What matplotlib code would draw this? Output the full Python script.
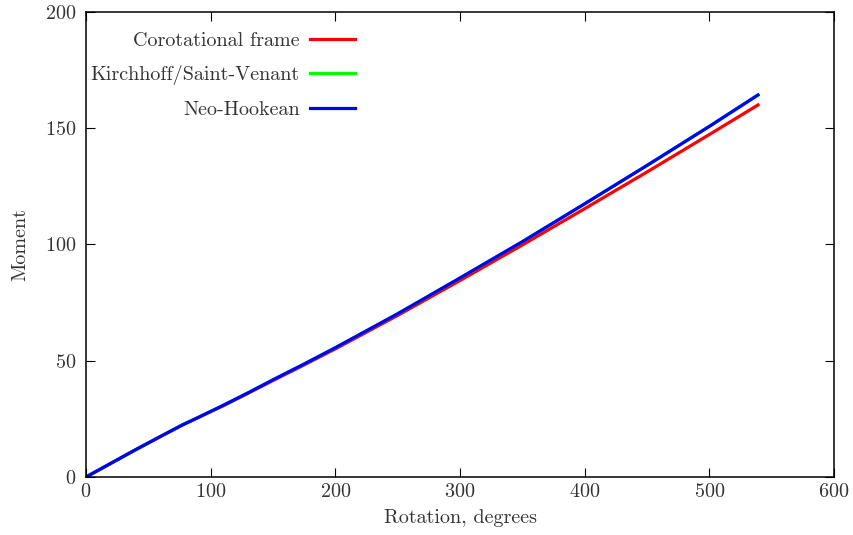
import matplotlib
matplotlib.use("Agg")
import matplotlib.pyplot as plt

# данные
rot_nh = [0, 20, 40, 60, 77, 90, 110, 130, 150, 175, 200, 250, 300, 350, 400, 450, 500, 539]
moment_nh = [0, 5.9, 11.8, 17.5, 22.3, 25.6, 30.8, 36.2, 41.8, 48.6, 55.6, 70.2, 85.6, 101.2, 117.5, 134.0, 150.8, 164.3]

rot_kirch = rot_nh
moment_kirch = moment_nh

rot_corot = [0, 20, 40, 60, 77, 90, 110, 130, 150, 175, 200, 250, 300, 350, 400, 450, 500, 539]
moment_corot = [0, 5.9, 11.8, 17.5, 22.3, 25.6, 30.6, 36.0, 41.5, 48.2, 55.1, 69.5, 84.5, 99.8, 115.4, 131.2, 147.3, 160.0]

labels = ["Corotational frame", "Kirchhoff/Saint-Venant", "Neo-Hookean"]
colors = ["#ff0000", "#00ff00", "#0000ff"]

plt.rcParams["font.family"] = ["cmr10", "DejaVu Serif"]
plt.rcParams["axes.formatter.use_mathtext"] = True
plt.rcParams["font.size"] = 14.5
text_color = "#333333"

fig = plt.figure(figsize=(8.54, 5.35), dpi=100)
ax = fig.add_axes([0.1007, 0.1084, 0.8759, 0.8692])

ax.plot(rot_corot, moment_corot, color=colors[0], lw=2.3, label=labels[0])
ax.plot(rot_kirch, moment_kirch, color=colors[1], lw=2.3, label=labels[1])
ax.plot(rot_nh, moment_nh, color=colors[2], lw=2.3, label=labels[2])

ax.set_xlim(0, 600)
ax.set_ylim(0, 200)
ax.set_xticks(range(0, 601, 100))
ax.set_yticks(range(0, 201, 50))
ax.tick_params(direction="in", top=True, right=True, length=6.5, width=0.8,
               labelcolor=text_color)
ax.tick_params(axis="x", pad=4)
ax.tick_params(axis="y", pad=7)
for s in ax.spines.values():
    s.set_linewidth(1.1)

ax.set_xlabel("Rotation, degrees", color=text_color, labelpad=6)
ax.set_ylabel("Moment", color=text_color, labelpad=11)

leg = ax.legend(loc="upper right", bbox_to_anchor=(0.3596, 0.9565), frameon=False,
                markerfirst=False, borderpad=0, borderaxespad=0,
                handlelength=2.25, handletextpad=0.5, labelspacing=0.75)
for t in leg.get_texts():
    t.set_color(text_color)

fig.savefig("out.png", dpi=100)
